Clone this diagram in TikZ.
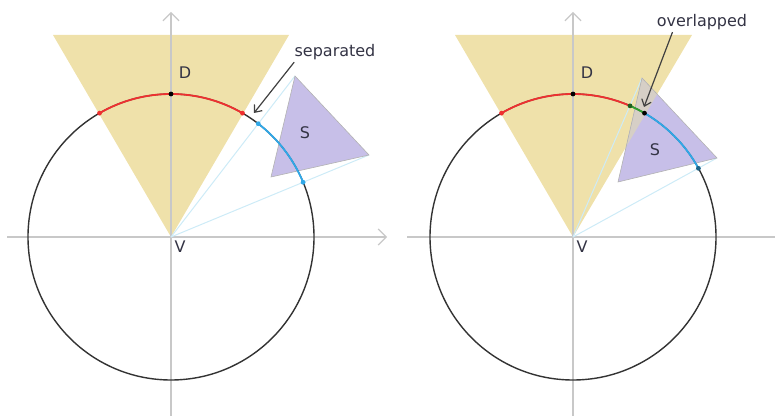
\documentclass[tikz,border=0pt]{standalone}
\usepackage{fontspec}
\setsansfont{DejaVu Sans}
\usepackage{tikz}
\usetikzlibrary{arrows.meta}
\definecolor{coneclr}{HTML}{EFE1AA}
\definecolor{targetclr}{HTML}{C7BFE8}
\definecolor{overclr}{HTML}{D6CFC6}
\definecolor{axisclr}{HTML}{C8C8C8}
\definecolor{inkclr}{HTML}{333344}
\definecolor{redclr}{HTML}{EE3030}
\definecolor{blueclr}{HTML}{30A8E8}
\definecolor{greenclr}{HTML}{30A030}
\definecolor{rayclr}{HTML}{CDEBF7}

\tikzset{
  axisline/.style={axisclr, line width=0.6pt, -{Straight Barb[length=4pt, width=8pt]}},
  rayline/.style={rayclr, line width=0.5pt},
  ringline/.style={black!80, line width=0.7pt},
  arcline/.style={line width=0.9pt},
  targetfill/.style={fill=targetclr, draw=gray!60, line width=0.3pt},
  lbl/.style={inkclr, inner sep=1pt},
  pointer/.style={black!75, line width=0.6pt, -{Straight Barb[length=3pt, width=5pt]}}
}

\begin{document}
\begin{tikzpicture}[x=0.5pt, y=0.5pt, font=\sffamily\fontsize{8}{9}\selectfont]
\useasboundingbox (0,0) rectangle (775,416);

% ===== left panel: S outside the cone =====================================
\begin{scope}[shift={(171,179)}]
% --- cone D ---------------------------------------------------------------
\fill[coneclr] (0,0) -- (-118,202) -- (118,202) -- cycle;
% --- axes -----------------------------------------------------------------
\draw[axisline] (-164,0) -- (216,0);
\draw[axisline] (0,-179) -- (0,225);
% --- S and the rays to its extreme corners --------------------------------
\coordinate (vL) at (0,0);
\coordinate (sLa) at (124,161);
\coordinate (sLb) at (198,82);
\coordinate (sLc) at (100,60);
\draw[rayline] (vL) -- (sLa);
\draw[rayline] (vL) -- (sLb);
\filldraw[targetfill] (sLa) -- (sLb) -- (sLc) -- cycle;
% --- circle and projected arcs --------------------------------------------
\draw[ringline] (vL) circle (143);
\draw[arcline, redclr] (60:143) arc (60:120:143);
\draw[arcline, blueclr] (22.5:143) arc (22.5:52.4:143);
\foreach \a/\c in {120/redclr, 90/black, 60/redclr, 52.4/blueclr, 22.5/blueclr}
  \fill[\c] (\a:143) circle (2.4);
% --- labels ---------------------------------------------------------------
\node[lbl] (dL) at (14,164) {D};
\node[lbl] (vLtxt) at (9,-10) {V};
\node[lbl] (sLtxt) at (134,104) {S};
\node[lbl] (sepL) at (164,185) {separated};
\coordinate (tipL) at (83,124);
\draw[pointer] ([xshift=1pt]sepL.south west) -- (tipL);
\end{scope}

% ===== right panel: S overlaps the cone ===================================
\begin{scope}[shift={(573,179)}]
% --- cone D ---------------------------------------------------------------
\fill[coneclr] (0,0) -- (-118,202) -- (119,202) -- cycle;
% --- axes -----------------------------------------------------------------
\draw[axisline, -] (-166,0) -- (202,0);
\draw[axisline] (0,-179) -- (0,225);
% --- S, rays, and the part of S inside the cone ---------------------------
\coordinate (vR) at (0,0);
\coordinate (sRa) at (69,159);
\coordinate (sRb) at (144,79);
\coordinate (sRc) at (45,55);
\draw[rayline] (vR) -- (sRa);
\draw[rayline] (vR) -- (sRb);
\fill[targetclr] (sRa) -- (sRb) -- (sRc) -- cycle;
\begin{scope}
  \clip (0,0) -- (-118,202) -- (119,202) -- cycle;
  \fill[overclr] (sRa) -- (sRb) -- (sRc) -- cycle;
\end{scope}
\draw[targetfill, fill=none] (sRa) -- (sRb) -- (sRc) -- cycle;
% --- circle and projected arcs --------------------------------------------
\draw[ringline] (vR) circle (143);
\draw[arcline, redclr] (66.5:143) arc (66.5:120:143);
\draw[arcline, greenclr] (60:143) arc (60:66.5:143);
\draw[arcline, blueclr] (28.7:143) arc (28.7:60:143);
\foreach \a/\c in {120/redclr, 90/black, 66.5/greenclr!60!black, 60/black, 28.7/blueclr!60!black}
  \fill[\c] (\a:143) circle (2.4);
% --- labels ---------------------------------------------------------------
\node[lbl] (dR) at (14,164) {D};
\node[lbl] (vRtxt) at (9,-10) {V};
\node[lbl] (sRtxt) at (82,87) {S};
\node[lbl] (overR) at (129,215) {overlapped};
\coordinate (tipR) at (71,130);
\draw[pointer] ([xshift=9pt]overR.south west) -- (tipR);
\end{scope}

\end{tikzpicture}
\end{document}
